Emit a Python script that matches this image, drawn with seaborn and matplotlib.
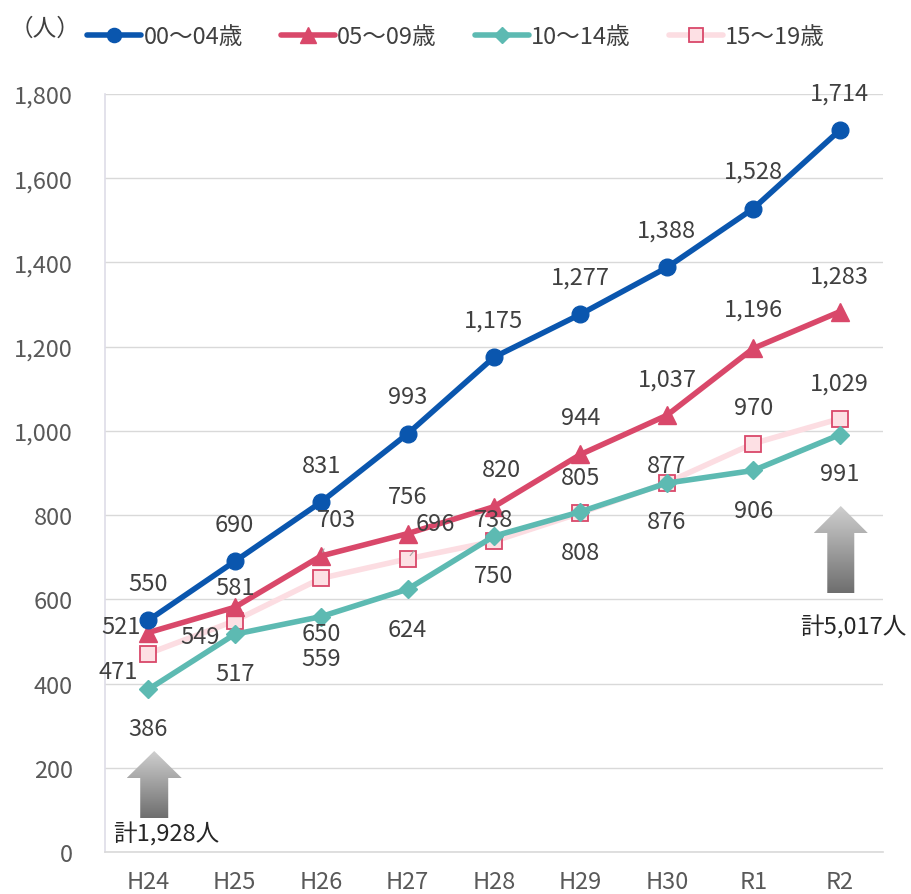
import numpy as np
import pandas as pd
import matplotlib
matplotlib.use("Agg")
import matplotlib.pyplot as plt
from matplotlib.patches import Polygon
from matplotlib.colors import LinearSegmentedColormap
import seaborn as sns

years = ["H24", "H25", "H26", "H27", "H28", "H29", "H30", "R1", "R2"]
age_00_04 = [550, 690, 831, 993, 1175, 1277, 1388, 1528, 1714]
age_05_09 = [521, 581, 703, 756, 820, 944, 1037, 1196, 1283]
age_10_14 = [386, 517, 559, 624, 750, 808, 876, 906, 991]
age_15_19 = [471, 549, 650, 696, 738, 805, 877, 970, 1029]
series_names = ["00～04歳", "05～09歳", "10～14歳", "15～19歳"]
total_first = "計1,928人"
total_last = "計5,017人"

FS = 17

sns.set_style("white")
plt.rcParams["font.family"] = ["Noto Sans CJK JP", "DejaVu Sans"]

fig = plt.figure(figsize=(9.12, 8.95), dpi=100)
ax = fig.add_axes([105 / 912, 1 - 853 / 895, 778 / 912, 758 / 895])

df = pd.DataFrame({"year": years, "00": age_00_04, "05": age_05_09,
                   "10": age_10_14, "15": age_15_19})
x = np.arange(len(years))

styles = {
    "15": dict(color="#fcdde2", lw=4, marker="s", ms=12, mfc="#fde0e4",
               mec="#d9486a", mew=1.3, zorder=3),
    "10": dict(color="#5dbab2", lw=4, marker="D", ms=9, mfc="#5dbab2",
               mec="#5dbab2", zorder=4),
    "05": dict(color="#d9486a", lw=4, marker="^", ms=13, mfc="#d9486a",
               mec="#d9486a", zorder=5),
    "00": dict(color="#0a56ae", lw=4, marker="o", ms=12, mfc="#0a56ae",
               mec="#0a56ae", zorder=6),
}
for key in ["15", "10", "05", "00"]:
    st = styles[key]
    sns.lineplot(x=x, y=df[key].values, ax=ax, color=st["color"], lw=st["lw"],
                 zorder=st["zorder"], legend=False)
    ax.plot(x, df[key].values, ls="none", marker=st["marker"],
            ms=st["ms"], mfc=st["mfc"], mec=st["mec"],
            mew=st.get("mew", 1), zorder=st["zorder"])

ax.set_xlim(-0.5, len(years) - 0.5)
ax.set_ylim(0, 1800)
ax.set_yticks(range(0, 1801, 200))
ax.set_yticklabels([f"{v:,}" for v in range(0, 1801, 200)])
ax.set_xticks(x)
ax.set_xticklabels(years)
ax.set_xticks(np.arange(-0.5, len(years)), minor=True)
ax.tick_params(axis="x", which="major", length=0, pad=13, labelsize=FS,
               colors="#595959")
ax.tick_params(axis="x", which="minor", direction="in", length=6,
               color="#d9d9d9", width=1.2)
ax.tick_params(axis="y", length=0, pad=23, labelsize=FS, colors="#595959")
ax.grid(axis="y", color="#d9d9d9", lw=1)
for s in ["top", "right"]:
    ax.spines[s].set_visible(False)
ax.spines["left"].set_color("#dedde8")
ax.spines["bottom"].set_color("#d9d9d9")
ax.spines["left"].set_linewidth(1.2)
ax.spines["bottom"].set_linewidth(1.2)

# label offsets in pixels (dx, dy), dy positive = up
offs = {
    "00": [(0, 37)] * 9,
    "05": [(-27, 6), (0, 20), (15, 36), (0, 37), (7, 37), (0, 37), (0, 36),
           (0, 39), (0, 36)],
    "10": [(0, -39), (0, -39), (0, -42), (0, -40), (0, -39), (0, -41),
           (0, -38), (0, -40), (0, -39)],
    "15": [(-30, -18), (-35, -16), (0, -55), (28, 35), (0, 22), (0, 36),
           (0, 17), (0, 36), (0, 36)],
}
leaders = {("05", 2), ("15", 3)}
for key, vals in [("00", age_00_04), ("05", age_05_09), ("10", age_10_14),
                  ("15", age_15_19)]:
    for i, v in enumerate(vals):
        dx, dy = offs[key][i]
        kw = {}
        if (key, i) in leaders:
            kw["arrowprops"] = dict(arrowstyle="-", color="#a6a6a6", lw=0.8,
                                    shrinkA=11, shrinkB=3)
        ax.annotate(f"{v:,}", (i, v), xytext=(dx * 0.72, dy * 0.72),
                    textcoords="offset points", ha="center", va="center",
                    fontsize=FS, color="#404040", zorder=10,
                    annotation_clip=False, **kw)


def grad_arrow(xc, y_bottom, y_headbase, y_top, shaft_w, head_w):
    pts = [(xc - shaft_w / 2, y_bottom), (xc - shaft_w / 2, y_headbase),
           (xc - head_w / 2, y_headbase), (xc, y_top),
           (xc + head_w / 2, y_headbase), (xc + shaft_w / 2, y_headbase),
           (xc + shaft_w / 2, y_bottom)]
    poly = Polygon(pts, closed=True, fc="none", ec="none", zorder=7)
    ax.add_patch(poly)
    grad = np.linspace(0, 1, 256).reshape(-1, 1)
    cmap = LinearSegmentedColormap.from_list("g", ["#6e6e6e", "#cfcfcf"])
    im = ax.imshow(grad, cmap=cmap, aspect="auto", origin="lower",
                   extent=(xc - head_w / 2, xc + head_w / 2, y_bottom, y_top),
                   zorder=7)
    im.set_clip_path(poly)


px = 1 / 86.44
py = 1800 / 758
grad_arrow(0 + 6 * px, (853 - 819) * py, (853 - 779) * py, (853 - 752) * py,
           28 * px, 55 * px)
grad_arrow(8 + 1 * px, (853 - 594) * py, (853 - 534) * py, (853 - 507) * py,
           27 * px, 54 * px)
ax.set_xlim(-0.5, len(years) - 0.5)
ax.set_ylim(0, 1800)

fig.text(113 / 912, 1 - 835 / 895, total_first, fontsize=FS, color="#262626",
         ha="left", va="center")
fig.text(800 / 912, 1 - 628 / 895, total_last, fontsize=FS, color="#262626",
         ha="left", va="center")

fig.text(10 / 912, 1 - 29 / 895, "（人）", fontsize=FS, color="#404040",
         ha="left", va="center")
leg_handles = []
for key in ["00", "05", "10", "15"]:
    st = styles[key]
    l, = ax.plot([], [], color=st["color"], lw=st["lw"], marker=st["marker"],
                 ms=st["ms"] * 0.85, mfc=st["mfc"], mec=st["mec"],
                 mew=st.get("mew", 1))
    leg_handles.append(l)
fig.legend(leg_handles, series_names, loc="center", ncol=4, frameon=False,
           bbox_to_anchor=(456 / 912, 1 - 38 / 895), fontsize=FS,
           handlelength=2.3, handletextpad=0.1, columnspacing=1.6,
           labelcolor="#404040")

fig.savefig("out.png", dpi=100)
